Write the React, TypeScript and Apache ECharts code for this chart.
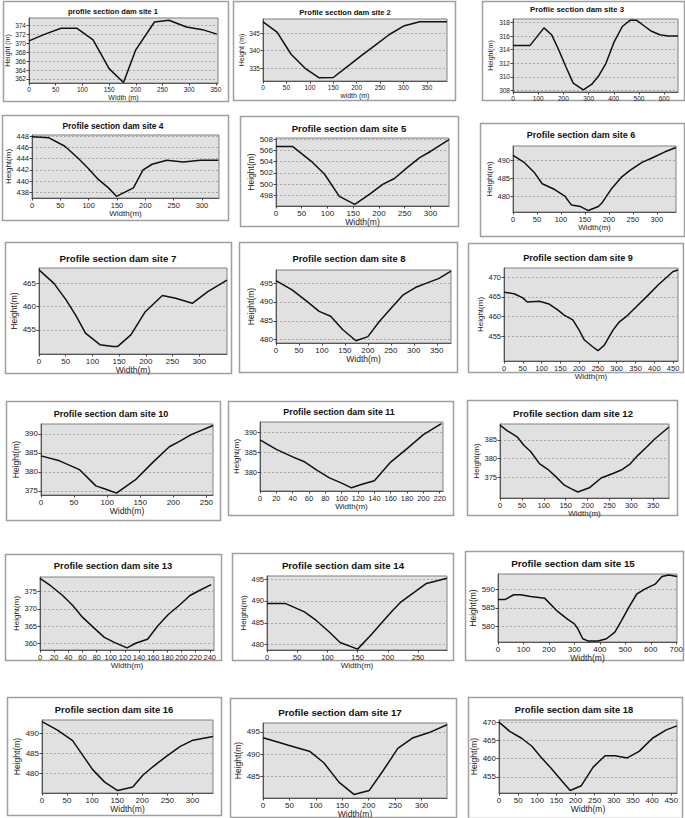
import React, { useEffect, useRef } from "react";
import * as echarts from "echarts";

// ---- data ----
const siteTitles = [
  "profile section dam site 1", "Profile section dam site 2", "Profile section dam site 3",
  "Profile section dam site 4", "Profile section dam site 5", "Profile section dam site 6",
  "Profile section dam site 7", "Profile section dam site 8", "Profile section dam site 9",
  "Profile section dam site 10", "Profile section dam site 11", "Profile section dam site 12",
  "Profile section dam site 13", "Profile section dam site 14", "Profile section dam site 15",
  "Profile section dam site 16", "Profile section dam site 17", "Profile section dam site 18",
];
const xAxisNames = ["Width (m)", "width (m)", "", "Width(m)", "Width(m)", "Width(m)", "Width(m)", "Width(m)", "Width(m)",
  "Width(m)", "Width(m)", "Width(m)", "Width(m)", "Width(m)", "Width(m)", "Width(m)", "Width(m)", "Width(m)"];
const yAxisNames = ["Height (m)", "Height (m)", "Height(m)", "Height(m)", "Height(m)", "Height(m)", "Height(m)", "Height(m)", "Height(m)",
  "Height(m)", "Height(m)", "Height(m)", "Height(m)", "Height(m)", "Height(m)", "Height(m)", "Height(m)", "Height(m)"];

const site1Width = [0, 30, 60, 90, 120, 150, 177, 200, 235, 262, 295, 325, 352];
const site1Height = [370.5, 372, 373.3, 373.3, 370.7, 364.3, 361.2, 368.5, 374.7, 375.1, 373.6, 373, 372];
const site2Width = [0, 30, 60, 90, 120, 150, 180, 210, 240, 270, 300, 335, 393];
const site2Height = [348.2, 345.3, 339, 335, 332.3, 332.4, 335.5, 338.6, 341.6, 344.6, 347, 348.2, 348.2];
const site3Width = [0, 67, 123, 153, 180, 210, 239, 279, 312, 339, 369, 401, 434, 464, 491, 524, 550, 583, 616, 655];
const site3Height = [314.6, 314.6, 317.2, 316.2, 314.1, 311.5, 309.1, 308.1, 308.9, 310.1, 312, 315.1, 317.4, 318.3, 318.3, 317.4, 316.7, 316.2, 316, 316];
const site4Width = [0, 30, 58, 81, 99, 117, 135, 149, 179, 196, 212, 238, 267, 297, 329];
const site4Height = [447.9, 447.7, 446.2, 444.1, 442.3, 440.3, 438.8, 437.3, 438.8, 442, 443, 443.7, 443.4, 443.7, 443.7];
const site5Width = [0, 32, 68, 94, 123, 153, 182, 208, 230, 253, 279, 300, 336];
const site5Height = [506.7, 506.7, 504.1, 501.8, 497.8, 496.4, 498.2, 500, 501, 502.8, 504.7, 505.8, 507.9];
const site6Width = [0, 24, 45, 61, 87, 108, 122, 141, 157, 178, 185, 206, 227, 244, 269, 290, 317, 340];
const site6Height = [491.3, 489.3, 486.5, 483.5, 481.9, 480.1, 477.6, 477.2, 476.1, 477.2, 478.1, 482.2, 485.4, 487.2, 489.4, 490.6, 492.3, 493.5];
const site7Width = [0, 28, 51, 70, 87, 114, 139, 147, 172, 199, 231, 256, 287, 316, 352];
const site7Height = [467.9, 465, 461.4, 457.9, 454.3, 451.8, 451.4, 451.4, 453.9, 458.9, 462.4, 461.8, 460.7, 463.2, 465.7];
const site8Width = [0, 35, 68, 94, 119, 145, 174, 200, 225, 251, 277, 306, 332, 354, 381];
const site8Height = [495.7, 493.2, 490.1, 487.5, 486.2, 482.7, 479.7, 480.8, 484.8, 488.4, 491.9, 494, 495.2, 496.2, 498.2];
const site9Width = [0, 27, 49, 62, 94, 120, 143, 160, 183, 200, 214, 236, 250, 267, 290, 307, 325, 352, 379, 410, 450, 463];
const site9Height = [466.2, 465.8, 464.8, 463.7, 463.9, 463.2, 461.7, 460.4, 459.2, 456.6, 454.1, 452.4, 451.4, 452.8, 456.6, 458.7, 460, 462.5, 465, 468, 471.4, 471.8];
const site10Width = [0, 28, 58, 83, 98, 114, 144, 169, 194, 210, 227, 260];
const site10Height = [384.2, 382.9, 380.6, 376.3, 375.4, 374.4, 378.1, 382.5, 386.6, 388.1, 389.8, 392.2];
const site11Width = [0, 20, 40, 55, 70, 85, 100, 112, 125, 140, 160, 180, 200, 222];
const site11Height = [388.2, 385.8, 383.9, 382.6, 380.5, 378.6, 377.3, 376.1, 377, 377.9, 382.6, 386, 389.5, 392.3];
const site12Width = [0, 17, 40, 55, 70, 90, 109, 128, 147, 162, 178, 204, 231, 258, 277, 296, 315, 335, 354, 386];
const site12Height = [388.9, 387.4, 385.7, 383.5, 381.9, 378.7, 377.2, 375.2, 373, 372.1, 371.2, 372.3, 374.9, 376.1, 377, 378.5, 380.9, 383.1, 385.3, 388.4];
const site13Width = [0, 15, 32, 46, 60, 77, 91, 105, 123, 136, 152, 167, 181, 197, 212, 226, 242];
const site13Height = [378.7, 376.6, 373.8, 371, 367.6, 364.4, 361.8, 360.4, 358.8, 360.2, 361.3, 365.2, 368.3, 371, 373.8, 375.3, 376.9];
const site14Width = [0, 31, 62, 81, 104, 121, 150, 174, 191, 208, 222, 239, 264, 298];
const site14Height = [489.4, 489.4, 487.5, 485.6, 482.8, 480.5, 479, 482.5, 485.2, 487.8, 489.8, 491.5, 494, 495.2];
const site15Width = [0, 29, 62, 89, 128, 184, 234, 274, 300, 313, 333, 353, 393, 426, 459, 485, 512, 545, 578, 617, 644, 671, 703];
const site15Height = [587.3, 587.3, 588.6, 588.6, 588.1, 587.6, 584, 581.8, 580.6, 579.3, 576.5, 575.9, 575.9, 576.5, 578.3, 581.5, 584.9, 588.8, 590.2, 591.5, 593.6, 594, 593.6];
const site16Width = [0, 31, 61, 81, 101, 125, 151, 181, 201, 221, 248, 275, 301, 341];
const site16Height = [492.9, 490.8, 488.2, 484.6, 481, 477.9, 475.8, 476.7, 479.6, 481.7, 484.3, 486.7, 488.3, 489.2];
const site17Width = [0, 26, 48, 89, 115, 144, 172, 201, 227, 255, 284, 313, 348];
const site17Height = [493.7, 492.8, 492, 490.6, 488.1, 483.7, 481, 481.9, 486.3, 491.3, 493.7, 494.8, 496.6];
const site18Width = [0, 28, 59, 86, 108, 135, 161, 186, 215, 246, 277, 303, 335, 366, 401, 437, 465];
const site18Height = [470, 467.5, 465.6, 463.4, 460.6, 457.5, 454.3, 451.3, 452.6, 457.7, 460.8, 460.8, 460.2, 462, 465.6, 467.9, 469];

const widths = [site1Width, site2Width, site3Width, site4Width, site5Width, site6Width, site7Width, site8Width, site9Width,
  site10Width, site11Width, site12Width, site13Width, site14Width, site15Width, site16Width, site17Width, site18Width];
const heights = [site1Height, site2Height, site3Height, site4Height, site5Height, site6Height, site7Height, site8Height, site9Height,
  site10Height, site11Height, site12Height, site13Height, site14Height, site15Height, site16Height, site17Height, site18Height];

// axis extents [xMax, yMin, yMax]
const xMaxes = [354, 393, 655, 330, 336, 340, 352, 381, 463, 260, 224, 386, 246, 298, 703, 341, 348, 465];
const yMins = [361.1, 331.4, 307.8, 437, 496.1, 475.7, 449.8, 479.1, 448.8, 373.9, 375.3, 369.6, 358.2, 478.8, 575.6, 475.2, 480.2, 450.6];
const yMaxes = [375.6, 349, 318.5, 448.2, 508.2, 493.9, 468.3, 498.5, 472.3, 392.6, 392.7, 389.2, 379.1, 495.7, 594.3, 493.3, 497, 470.6];

// tick labels
const xTicks50to350 = [0, 50, 100, 150, 200, 250, 300, 350];
const xTicks50to300 = [0, 50, 100, 150, 200, 250, 300];
const xTicks50to250 = [0, 50, 100, 150, 200, 250];
const xTicks50to450 = [0, 50, 100, 150, 200, 250, 300, 350, 400, 450];
const xTicks100to600 = [0, 100, 200, 300, 400, 500, 600];
const xTicks100to700 = [0, 100, 200, 300, 400, 500, 600, 700];
const xTicks20to220 = [0, 20, 40, 60, 80, 100, 120, 140, 160, 180, 200, 220];
const xTicks20to240 = [0, 20, 40, 60, 80, 100, 120, 140, 160, 180, 200, 220, 240];
const xTicks = [xTicks50to350, xTicks50to350, xTicks100to600, xTicks50to300, xTicks50to300, xTicks50to300, xTicks50to300, xTicks50to350, xTicks50to450,
  xTicks50to250, xTicks20to220, xTicks50to350, xTicks20to240, xTicks50to250, xTicks100to700, xTicks50to300, xTicks50to300, xTicks50to450];
const yTicks = [
  [362, 364, 366, 368, 370, 372, 374], [335, 340, 345], [308, 310, 312, 314, 316, 318],
  [438, 440, 442, 444, 446, 448], [498, 500, 502, 504, 506, 508], [480, 485, 490],
  [455, 460, 465], [480, 485, 490, 495], [455, 460, 465, 470],
  [375, 380, 385, 390], [380, 385, 390], [375, 380, 385],
  [360, 365, 370, 375], [480, 485, 490, 495], [580, 585, 590],
  [480, 485, 490], [485, 490, 495], [455, 460, 465, 470],
];

// ---- layout (positions, sizes) ----
type Panel = { frame: number[]; title: number[]; plot: number[]; font: number; xGap: number; yGap: number };
const panels: Panel[] = [
  { frame: [3, 1, 225, 100], title: [113, 11, 7.5], plot: [29, 18, 189, 65], font: 6.5, xGap: 9, yGap: 14 },
  { frame: [233, 1, 222, 99], title: [345, 12, 7.6], plot: [263, 19, 184, 62], font: 6.5, xGap: 9, yGap: 17 },
  { frame: [482, 1, 202, 99], title: [577, 9, 7.8], plot: [513, 19, 165, 73], font: 6.5, xGap: 9, yGap: 19 },
  { frame: [2, 115, 226, 105], title: [113, 126, 8.4], plot: [32, 135, 187, 63], font: 7.5, xGap: 10, yGap: 16 },
  { frame: [240, 116, 218, 110], title: [349, 128, 9.5], plot: [276, 138, 173, 68], font: 8, xGap: 11, yGap: 19 },
  { frame: [480, 123, 204, 113], title: [581, 135, 9], plot: [513, 146, 163, 66], font: 7.5, xGap: 11, yGap: 18 },
  { frame: [5, 242, 226, 131], title: [118, 258, 9.7], plot: [39, 268, 188, 86], font: 8, xGap: 11, yGap: 19 },
  { frame: [239, 242, 218, 130], title: [349, 258, 9.4], plot: [276, 270, 175, 73], font: 8, xGap: 11, yGap: 19 },
  { frame: [468, 243, 215, 129], title: [578, 258, 9.1], plot: [504, 268, 174, 93], font: 7.5, xGap: 9, yGap: 19 },
  { frame: [6, 401, 214, 119], title: [111, 414, 9.1], plot: [41, 424, 172, 71], font: 8, xGap: 11, yGap: 20 },
  { frame: [228, 401, 225, 114], title: [339, 412, 8.9], plot: [260, 422, 183, 69], font: 7.5, xGap: 10, yGap: 18 },
  { frame: [467, 400, 210, 115], title: [573, 413, 9.5], plot: [500, 424, 169, 74], font: 7.5, xGap: 10, yGap: 17 },
  { frame: [5, 554, 216, 106], title: [113, 565, 9.4], plot: [40, 577, 174, 73], font: 7.5, xGap: 11, yGap: 19 },
  { frame: [232, 553, 221, 107], title: [343, 565, 9.7], plot: [267, 576, 180, 74], font: 7.5, xGap: 11, yGap: 20 },
  { frame: [465, 551, 218, 109], title: [573, 563, 9.8], plot: [498, 574, 179, 68], font: 8, xGap: 11, yGap: 20 },
  { frame: [7, 697, 214, 118], title: [114, 709, 9.4], plot: [42, 720, 171, 73], font: 8, xGap: 11, yGap: 20 },
  { frame: [230, 698, 226, 119], title: [340, 712, 9.8], plot: [263, 723, 184, 75], font: 8, xGap: 11, yGap: 19 },
  { frame: [468, 697, 214, 121], title: [574, 709, 9.4], plot: [499, 720, 178, 73], font: 8, xGap: 11, yGap: 20 },
];

const FONT = '"Liberation Sans", Arial, sans-serif';

function buildOption() {
  const grid: any[] = [];
  const xAxis: any[] = [];
  const yAxis: any[] = [];
  const series: any[] = [];
  const graphic: any[] = [];
  panels.forEach((p, i) => {
    graphic.push({
      type: "rect", z: 0, silent: true,
      shape: { x: p.frame[0] + 0.5, y: p.frame[1] + 0.5, width: p.frame[2], height: p.frame[3] },
      style: { fill: "none", stroke: "#a0a0a0", lineWidth: 1.5 },
    });
    graphic.push({
      type: "text", z: 10, silent: true,
      x: p.title[0], y: p.title[1],
      style: { text: siteTitles[i], align: "center", verticalAlign: "middle", font: `bold ${p.title[2]}px ${FONT}`, fill: "#111" },
    });
    grid.push({
      left: p.plot[0], top: p.plot[1], width: p.plot[2], height: p.plot[3],
      show: true, backgroundColor: "#e1e1e1", borderColor: "#808080", borderWidth: 1,
      containLabel: false, outerBoundsMode: "none",
    });
    const labelStyle = { fontSize: p.font, color: "#222", fontFamily: FONT };
    xAxis.push({
      type: "value", gridIndex: i, min: 0, max: xMaxes[i],
      name: xAxisNames[i], nameLocation: "middle", nameGap: p.xGap,
      nameTextStyle: { fontSize: p.font + 0.5, color: "#222", fontFamily: FONT },
      axisLine: { show: true, onZero: false, lineStyle: { color: "#555", width: 1 } },
      axisTick: { show: true, length: 2.5, customValues: xTicks[i], lineStyle: { color: "#444" } },
      axisLabel: { ...labelStyle, margin: 3, customValues: xTicks[i] },
      splitLine: { show: false },
    });
    yAxis.push({
      type: "value", gridIndex: i, min: yMins[i], max: yMaxes[i],
      name: yAxisNames[i], nameLocation: "middle", nameGap: p.yGap,
      nameTextStyle: { fontSize: p.font + 0.5, color: "#222", fontFamily: FONT },
      axisLine: { show: true, onZero: false, lineStyle: { color: "#555", width: 1 } },
      axisTick: { show: true, length: 2.5, customValues: yTicks[i], lineStyle: { color: "#444" } },
      axisLabel: { ...labelStyle, margin: 3, customValues: yTicks[i] },
      splitLine: { show: true, lineStyle: { color: "#a8a8a8", type: [2, 2], width: 1 } },
    });
    series.push({
      type: "line", xAxisIndex: i, yAxisIndex: i,
      data: widths[i].map((w, k) => [w, heights[i][k]]),
      showSymbol: false, symbol: "none",
      lineStyle: { color: "#111", width: 1.5 },
      silent: true,
    });
  });
  return { animation: false, backgroundColor: "#ffffff", grid, xAxis, yAxis, series, graphic };
}

export default function App() {
  const ref = useRef<HTMLDivElement>(null);
  useEffect(() => {
    if (!ref.current) return;
    const chart = echarts.init(ref.current, undefined, { renderer: "svg", width: 685, height: 818 });
    chart.setOption(buildOption() as any);
    return () => chart.dispose();
  }, []);
  return <div ref={ref} style={{ position: "absolute", left: 0, top: 0, width: 685, height: 818 }} />;
}
